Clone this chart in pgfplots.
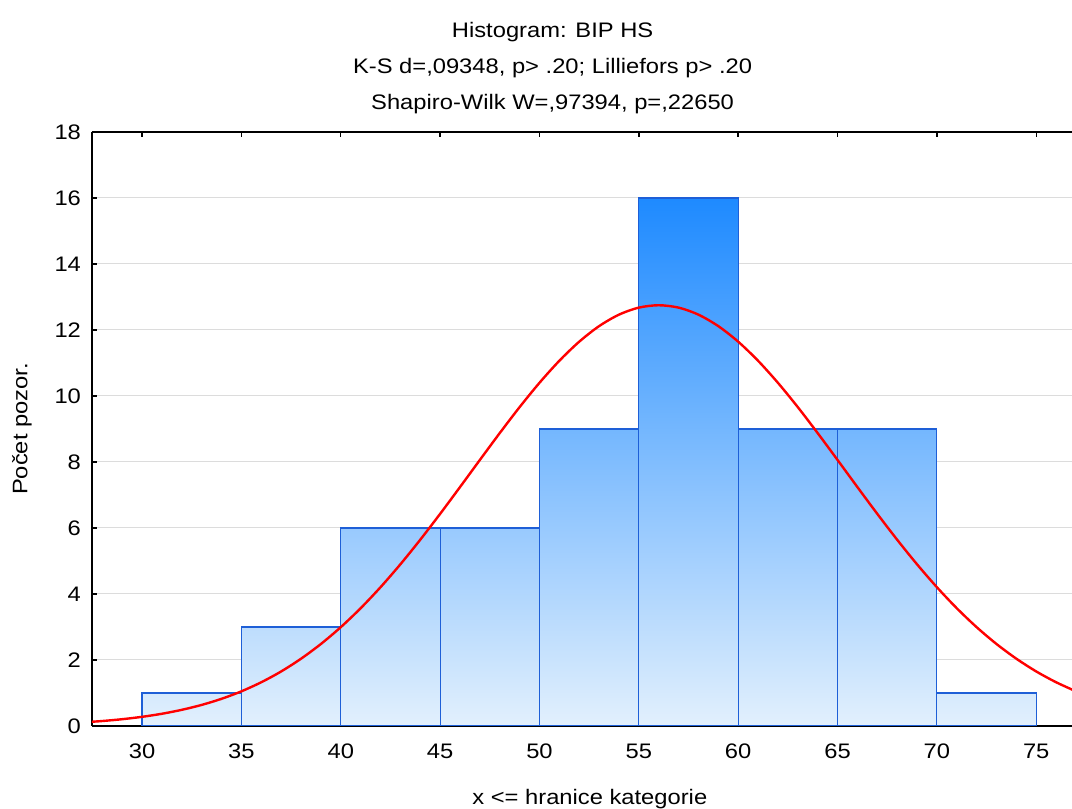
\documentclass[border=0pt]{standalone}
\usepackage{fontspec}
\setmainfont{Liberation Sans}[FakeStretch=1.13]
\usepackage{pgfplots}
\pgfplotsset{compat=1.18}

\definecolor{bartop}{RGB}{30,138,255}
\definecolor{barbot}{RGB}{226,240,253}
\definecolor{baredge}{RGB}{30,95,215}
\definecolor{gridgray}{RGB}{220,220,220}

\begin{document}
\begin{tikzpicture}
\begin{axis}[
    at={(0,0)}, anchor=south west,
    scale only axis,
    width=490pt, height=297pt,
    xmin=27.48, xmax=76.8,
    ymin=0, ymax=18,
    set layers,
    axis x line*=box,
    axis y line*=left,
    axis line style={line width=1pt, on layer=axis foreground},
    xtick={30,35,...,75},
    ytick={0,2,...,18},
    tick align=inside,
    major tick length=2.5pt,
    tick style={black, line width=0.7pt},
    ymajorgrids,
    grid style={gridgray, line width=0.5pt},
    font=\fontsize{10.5}{12}\selectfont,
    /pgf/number format/assume math mode=true,
    xticklabel style={yshift=-5.5pt},
    yticklabel style={xshift=-2pt},
    title={Histogram: BIP HS\\K-S d=,09348, p> .20; Lilliefors p> .20\\Shapiro-Wilk W=,97394, p=,22650},
    title style={at={(0.47,1)}, anchor=south, yshift=-0.5pt, align=center,
        font=\fontsize{10.5}{18}\selectfont},
    xlabel={x <= hranice kategorie},
    xlabel style={at={(0.508,0)}, anchor=center, yshift=-36.5pt},
    ylabel={Počet pozor.},
    ylabel style={at={(-0.0714,0.5)}, anchor=center},
]
% shaded area of the histogram (one path, so the gradient is global)
\addplot[const plot, draw=none, top color=bartop, bottom color=barbot]
    coordinates {(30,1) (35,3) (40,6) (45,6) (50,9) (55,16) (60,9) (65,9) (70,1) (75,1)}
    \closedcycle;
% bar outlines
\addplot[ybar interval, draw=baredge, line width=0.6pt, fill=none]
    coordinates {(30,1) (35,3) (40,6) (45,6) (50,9) (55,16) (60,9) (65,9) (70,1) (75,1)};
% fitted normal curve
\addplot[red, line width=1.2pt, smooth] coordinates {
(27,0.109) (28,0.151) (29,0.206) (30,0.278) (31,0.371) (32,0.490) (33,0.639)
(34,0.824) (35,1.051) (36,1.326) (37,1.653) (38,2.039) (39,2.485) (40,2.995)
(41,3.569) (42,4.206) (43,4.900) (44,5.645) (45,6.429) (46,7.240) (47,8.062)
(48,8.876) (49,9.663) (50,10.400) (51,11.068) (52,11.646) (53,12.117) (54,12.465)
(55,12.678) (56,12.750) (57,12.678) (58,12.465) (59,12.117) (60,11.646) (61,11.068)
(62,10.400) (63,9.663) (64,8.876) (65,8.062) (66,7.240) (67,6.429) (68,5.645)
(69,4.900) (70,4.206) (71,3.569) (72,2.995) (73,2.485) (74,2.039) (75,1.653)
(76,1.326) (77,1.051)};
\end{axis}
\pgfresetboundingbox
\path[use as bounding box] (-46pt,-41.5pt) rectangle (490pt,363pt);
\end{tikzpicture}
\end{document}
